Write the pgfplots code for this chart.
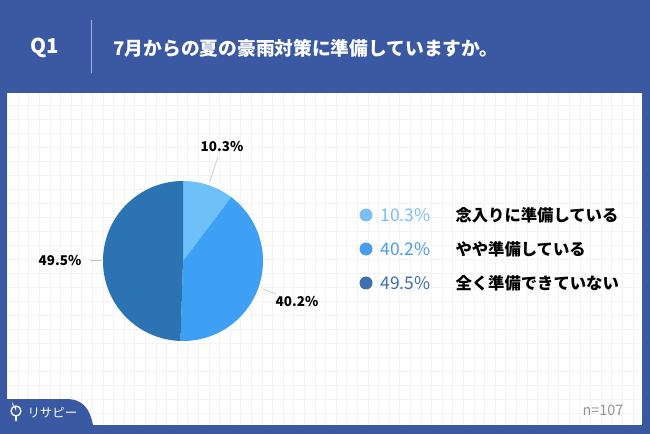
\documentclass[border=0pt]{standalone}
\usepackage{pgfplots}
\pgfplotsset{compat=1.18}
\usepackage{pgfplotstable}
\usepackage{fontspec}
\setmainfont{Noto Sans CJK JP}
\definecolor{bg}{HTML}{3A59A2}
\definecolor{cA}{HTML}{6EC0F9}
\definecolor{cB}{HTML}{3EA0F5}
\definecolor{cC}{HTML}{2C73B4}
\definecolor{lA}{HTML}{7CC0F3}
\definecolor{lB}{HTML}{4C9CEE}
\definecolor{lC}{HTML}{3E70B0}
\definecolor{gridc}{HTML}{F3F3F3}
\definecolor{leader}{HTML}{C8C8C8}
\pgfplotstableread{
id pct
1 10.3
2 40.2
3 49.5
}\piedata
\begin{document}
\begin{tikzpicture}[x=1bp,y=-1bp]
\pgfplotstablegetelem{0}{pct}\of\piedata \let\pA\pgfplotsretval
\pgfplotstablegetelem{1}{pct}\of\piedata \let\pB\pgfplotsretval
\pgfplotstablegetelem{2}{pct}\of\piedata \let\pC\pgfplotsretval
\pgfmathsetmacro{\aA}{90-3.6*\pA}
\pgfmathsetmacro{\aB}{\aA-3.6*\pB}
\pgfmathsetmacro{\aC}{\aB-3.6*\pC}
% background
\fill[bg] (0,0) rectangle (650,434);
\useasboundingbox (0,0) rectangle (650,434);
% panel
\fill[white] (7,93) rectangle (642,425);
\begin{scope}
\clip (7,93) rectangle (642,425);
\foreach \i in {0,...,60} {\draw[gridc,line width=0.6bp] ({7.4+10.6*\i},93) -- ({7.4+10.6*\i},425);}
\foreach \j in {0,...,24} {\draw[gridc,line width=0.6bp] (7,{91+14*\j}) -- (642,{91+14*\j});}
\end{scope}
% logo tab
\fill[bg] (0,399) -- (66,399) .. controls (84,399) and (90,410) .. (93,425) -- (93,434) -- (0,434) -- cycle;
\draw[white,line width=1.3bp] (16,411) circle (5);
\fill[white] (16,411) -- (16,407) arc[start angle=90,end angle=200,radius=4] -- cycle;
\draw[white,line width=1.3bp] (16,416) -- (16,421);
\node[white,font=\fontsize{12.5}{12}\selectfont,anchor=west] at (24,413) {リサピー};
% header
\node[white,font=\bfseries\fontsize{20.5}{20}\selectfont] at (45,48) {Q1};
\draw[white,opacity=0.55,line width=0.8bp] (91,20) -- (91,73);
\node[white,font=\bfseries\fontsize{18.8}{19}\selectfont,anchor=west] at (110,48) {7月からの夏の豪雨対策に準備していますか。};
% pie
\begin{axis}[at={(183bp,-261bp)},anchor=origin,x=80bp,y=80bp,
  xmin=-1.5,xmax=1.5,ymin=-1.5,ymax=1.5,hide axis,clip=false]
\fill[cA] (axis cs:0,0) -- ++(90:80bp) arc[start angle=90,end angle=\aA,radius=80bp] -- cycle;
\fill[cB] (axis cs:0,0) -- ++(\aA:80bp) arc[start angle=\aA,end angle=\aB,radius=80bp] -- cycle;
\fill[cC] (axis cs:0,0) -- ++(\aB:80bp) arc[start angle=\aB,end angle=\aC,radius=80bp] -- cycle;
\end{axis}
% leader lines and labels
\draw[leader,line width=0.7bp] (210,181) -- (218,157);
\node[font=\bfseries\fontsize{13.5}{13}\selectfont] at (222,146) {\pA\%};
\draw[leader,line width=0.7bp] (263,289) -- (276,294);
\node[font=\bfseries\fontsize{13.5}{13}\selectfont] at (297,301) {\pB\%};
\draw[leader,line width=0.7bp] (90,260) -- (102,260);
\node[font=\bfseries\fontsize{13.5}{13}\selectfont] at (60,260) {\pC\%};
% legend
\fill[lA] (366,215) circle (6.5);
\fill[lB] (366,249) circle (6.5);
\fill[lC] (366,283) circle (6.5);
\node[lA,font=\fontsize{17.5}{17}\selectfont,anchor=west] at (377,215) {\pA\%};
\node[lB,font=\fontsize{17.5}{17}\selectfont,anchor=west] at (377,249) {\pB\%};
\node[lC,font=\fontsize{17.5}{17}\selectfont,anchor=west] at (377,283) {\pC\%};
\node[font=\bfseries\fontsize{16.4}{16}\selectfont,anchor=west] at (452,215) {念入りに準備している};
\node[font=\bfseries\fontsize{16.4}{16}\selectfont,anchor=west] at (452,249) {やや準備している};
\node[font=\bfseries\fontsize{16.4}{16}\selectfont,anchor=west] at (452,283) {全く準備できていない};
% n
\node[gray!85,font=\fontsize{14.5}{14}\selectfont,anchor=east] at (627,410) {n=107};
\end{tikzpicture}
\end{document}
